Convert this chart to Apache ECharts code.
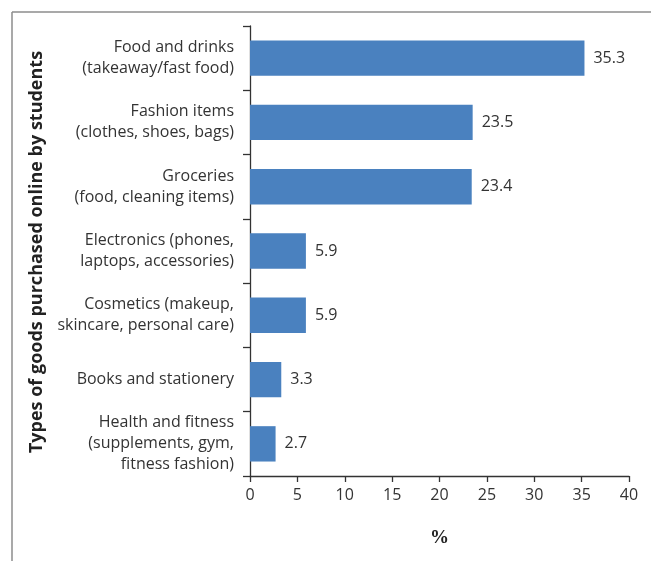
<!DOCTYPE html>
<html><head><meta charset="utf-8">
<script src="https://cdn.jsdelivr.net/npm/echarts@6/dist/echarts.min.js"></script>
<style>html,body{margin:0;padding:0;background:#fff}#c{width:651px;height:561px}</style>
</head><body><div id="c"></div>
<script>
const categories = [
  "Food and drinks\n(takeaway/fast food)",
  "Fashion items\n(clothes, shoes, bags)",
  "Groceries\n(food, cleaning items)",
  "Electronics (phones,\nlaptops, accessories)",
  "Cosmetics (makeup,\nskincare, personal care)",
  "Books and stationery",
  "Health and fitness\n(supplements, gym,\nfitness fashion)"
];
const values = [35.3, 23.5, 23.4, 5.9, 5.9, 3.3, 2.7];
const yTitle = "Types of goods purchased online by students";
const xTitle = "%";

const chart = echarts.init(document.getElementById('c'), null, {renderer: 'canvas'});
const font = 'Open Sans';
chart.setOption({
  animation: false,
  grid: {left: 250, right: 22, top: 26, bottom: 85},
  xAxis: {
    type: 'value', min: 0, max: 40, interval: 5,
    name: xTitle, nameLocation: 'middle', nameGap: 53,
    nameTextStyle: {fontFamily: 'Liberation Serif', fontWeight: 'bold', fontSize: 19, color: '#222'},
    axisLine: {show: true, lineStyle: {color: '#333', width: 1.3}},
    axisTick: {show: true, length: 6, lineStyle: {color: '#333', width: 1.3}},
    axisLabel: {fontFamily: font, fontSize: 16, color: '#333', margin: 11},
    splitLine: {show: false}
  },
  yAxis: {
    type: 'category', data: categories, inverse: true,
    axisLine: {show: true, lineStyle: {color: '#333', width: 1.3}},
    axisTick: {show: true, length: 7, lineStyle: {color: '#333', width: 1.3}},
    axisLabel: {fontFamily: font, fontSize: 16, color: '#333', margin: 16, lineHeight: 21, align: 'right'}
  },
  series: [{
    type: 'bar', data: values, barWidth: '55%',
    itemStyle: {color: '#4A81BF'},
    label: {show: true, position: 'right', distance: 9, fontFamily: font, fontSize: 16, color: '#333'}
  }],
  graphic: [
    {type: 'line', shape: {x1: 12, y1: 12, x2: 651, y2: 12}, style: {stroke: '#8c8c8c', lineWidth: 1.5}},
    {type: 'line', shape: {x1: 12, y1: 12, x2: 12, y2: 561}, style: {stroke: '#8c8c8c', lineWidth: 1.5}},
    {type: 'text', x: 37, y: 252, rotation: Math.PI / 2,
     style: {text: yTitle, fontFamily: font, fontWeight: 'bold', fontSize: 18, fill: '#222', textAlign: 'center', textVerticalAlign: 'middle'}}
  ]
});
</script></body></html>
